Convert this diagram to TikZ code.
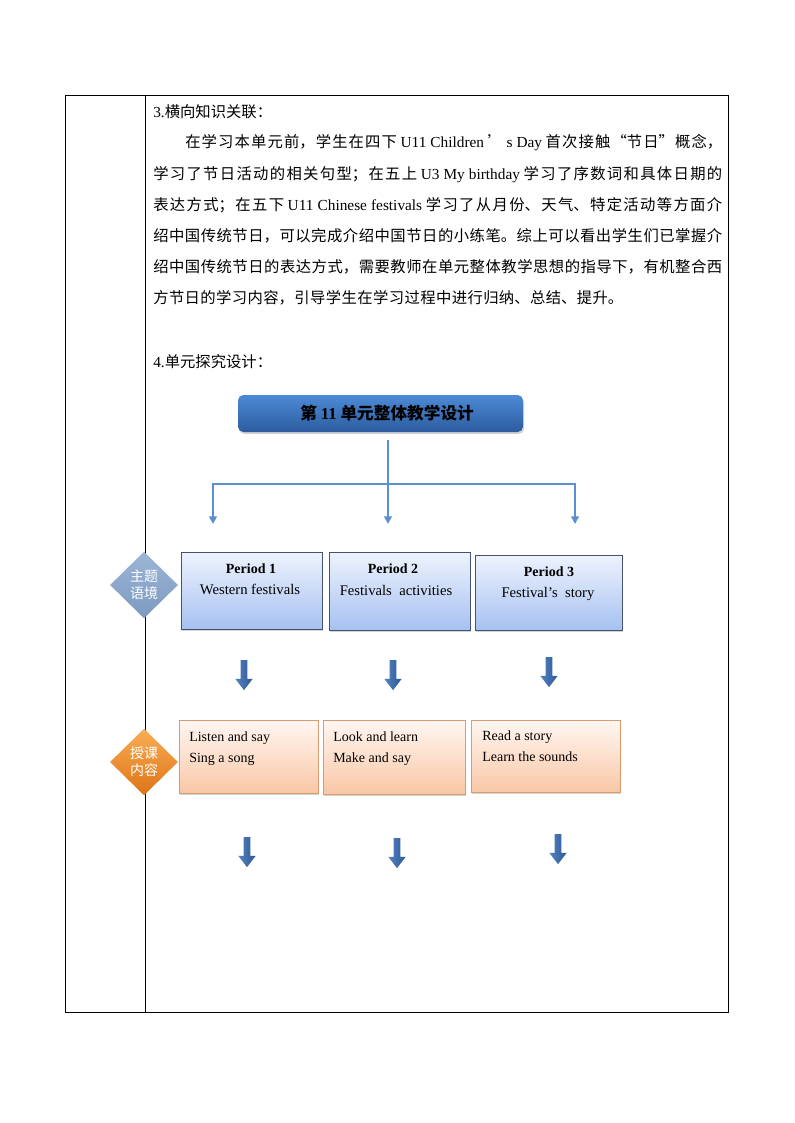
\documentclass[tikz,border=0pt]{standalone}
\usepackage{fontspec}
\setmainfont{Liberation Serif}
\newfontfamily\cjk{Noto Sans CJK SC}
\usetikzlibrary{positioning, arrows.meta, shapes.geometric, shapes.arrows, shadows}

\definecolor{linkblue}{HTML}{5B8FD0}
\definecolor{titletop}{HTML}{4D8AD6}
\definecolor{titlebot}{HTML}{2C5C9E}
\definecolor{periodtop}{HTML}{EEF3FD}
\definecolor{periodbot}{HTML}{A6C1F1}
\definecolor{periodedge}{HTML}{45536E}
\definecolor{contenttop}{HTML}{FFF7F2}
\definecolor{contentbot}{HTML}{F9C7A6}
\definecolor{contentedge}{HTML}{D99B70}
\definecolor{themetop}{HTML}{9DB6D6}
\definecolor{themebot}{HTML}{7C99C0}
\definecolor{tasktop}{HTML}{F9AE55}
\definecolor{taskbot}{HTML}{DD7316}
\definecolor{arrowleft}{HTML}{5382C2}
\definecolor{arrowright}{HTML}{2D5893}

\begin{document}
\begin{tikzpicture}[x=0.75pt, y=-0.75pt,
  font=\fontsize{10.5pt}{12.6pt}\selectfont,
  link/.style={draw=linkblue, line width=1.6pt},
  tip/.style={-{Triangle[width=5.8pt,length=5.8pt]}},
  softshadow/.style={drop shadow={shadow xshift=0.8pt, shadow yshift=-1.5pt, opacity=.35}},
  titlebox/.style={rounded corners=4pt, top color=titletop, bottom color=titlebot, inner sep=0pt,
    minimum width=213.75pt, minimum height=27.75pt, softshadow, font=\cjk\bfseries\fontsize{12.5pt}{14pt}\selectfont},
  periodbox/.style={draw=periodedge, line width=0.6pt, top color=periodtop, bottom color=periodbot, inner sep=0pt, softshadow},
  contentbox/.style={draw=contentedge, line width=0.6pt, top color=contenttop, bottom color=contentbot, inner sep=0pt, softshadow},
  tag/.style={diamond, aspect=1, inner sep=0pt, minimum width=51pt, minimum height=50pt, text=white,
    align=center, font=\cjk\fontsize{10.5pt}{13pt}\selectfont},
  downarrow/.style={single arrow, shape border rotate=270, single arrow tip angle=75,
    single arrow head extend=4pt, inner sep=2.3pt, minimum height=22.5pt,
    left color=arrowleft, right color=arrowright}
]
\useasboundingbox (0,0) rectangle (794,1123);

% table frame
\draw[line width=0.75pt] (65,96) rectangle (728,1012);
\draw[line width=0.75pt] (145,96) -- (145,1012);

% text part
\node[anchor=base west, inner sep=0pt, font=\cjk\fontsize{11.5pt}{13pt}\selectfont] (h3) at (153,117.5)
  {{\rmfamily 3.}横向知识关联：};
\node[anchor=north west, inner sep=0pt, text width=426.75pt, align=justify,
  font=\cjk\fontsize{11.5pt}{23.4pt}\selectfont] (para) at (153,134.5) {%
\XeTeXlinebreaklocale "zh"\XeTeXlinebreakskip=0.3pt plus 6pt\relax
\noindent\hspace*{24pt}在学习本单元前，学生在四下 {\rmfamily U11 Children} ’ {\rmfamily s Day} 首次接触“节日”概念，\linebreak
学习了节日活动的相关句型；在五上 {\rmfamily U3 My birthday} 学习了序数词和具体日期的\linebreak
表达方式；在五下 {\rmfamily U11 Chinese festivals} 学习了从月份、天气、特定活动等方面介\linebreak
绍中国传统节日，可以完成介绍中国节日的小练笔。综上可以看出学生们已掌握介\linebreak
绍中国传统节日的表达方式，需要教师在单元整体教学思想的指导下，有机整合西\linebreak
方节日的学习内容，引导学生在学习过程中进行归纳、总结、提升。};
\node[anchor=base west, inner sep=0pt, font=\cjk\fontsize{11.5pt}{13pt}\selectfont] (h4) at (153,367.5)
  {{\rmfamily 4.}单元探究设计：};

% top of the tree
\node[titlebox] (unit) at (380.5,413.5) {\hspace*{10pt}第 {\rmfamily\bfseries 11} 单元整体教学设计};
\coordinate (stem) at (388,440);
\coordinate (hub) at (388,484);
\coordinate (tl) at (213,524);
\coordinate (tm) at (388,524);
\coordinate (tr) at (575,524);
\draw[link, tip] (stem) -- (tm);
\draw[link, tip] (hub) -| (tl);
\draw[link, tip] (hub) -| (tr);

% periods
\node[tag, top color=themetop, bottom color=themebot] (theme) at (144,585) {主题\\语境};
\node[periodbox, minimum width=105.75pt, minimum height=57.75pt] (p1) at (251.5,590.5) {};
\node[periodbox, minimum width=105.75pt, minimum height=58.5pt] (p2) at (399.5,591) {};
\node[periodbox, minimum width=110.25pt, minimum height=56.25pt] (p3) at (548.5,592.5) {};
\node[anchor=base, font=\bfseries\fontsize{10.5pt}{12pt}\selectfont] (p1a) at (251,573) {Period 1};
\node[anchor=base, font=\fontsize{11pt}{13pt}\selectfont] (p1b) at (250,594) {Western festivals};
\node[anchor=base, font=\bfseries\fontsize{10.5pt}{12pt}\selectfont] (p2a) at (393,573) {Period 2};
\node[anchor=base, font=\fontsize{11pt}{13pt}\selectfont] (p2b) at (396,595) {Festivals\ \ activities};
\node[anchor=base, font=\bfseries\fontsize{10.5pt}{12pt}\selectfont] (p3a) at (549,576) {Period 3};
\node[anchor=base, font=\fontsize{11pt}{13pt}\selectfont] (p3b) at (548,597) {Festival’s\ \ story};

\node[downarrow] (a1) at (244,673) {};
\node[downarrow] (a2) at (393,673) {};
\node[downarrow] (a3) at (549,670) {};

% lesson contents
\node[tag, top color=tasktop, bottom color=taskbot] (task) at (144,762) {授课\\内容};
\node[contentbox, minimum width=104.25pt, minimum height=54.75pt] (c1) at (248.5,756.5) {};
\node[contentbox, minimum width=106.5pt, minimum height=55.5pt] (c2) at (394,757) {};
\node[contentbox, minimum width=111.75pt, minimum height=54pt] (c3) at (545.5,756) {};
\node[anchor=base west, inner sep=0pt] (c1a) at (189,741) {Listen and say};
\node[anchor=base west, inner sep=0pt] (c1b) at (189,762) {Sing a song};
\node[anchor=base west, inner sep=0pt] (c2a) at (333,741) {Look and learn};
\node[anchor=base west, inner sep=0pt] (c2b) at (333,762) {Make and say};
\node[anchor=base west, inner sep=0pt] (c3a) at (482,740) {Read a story};
\node[anchor=base west, inner sep=0pt] (c3b) at (482,761) {Learn the sounds};

\node[downarrow] (b1) at (247,850) {};
\node[downarrow] (b2) at (397,851) {};
\node[downarrow] (b3) at (558,847) {};
\end{tikzpicture}
\end{document}
